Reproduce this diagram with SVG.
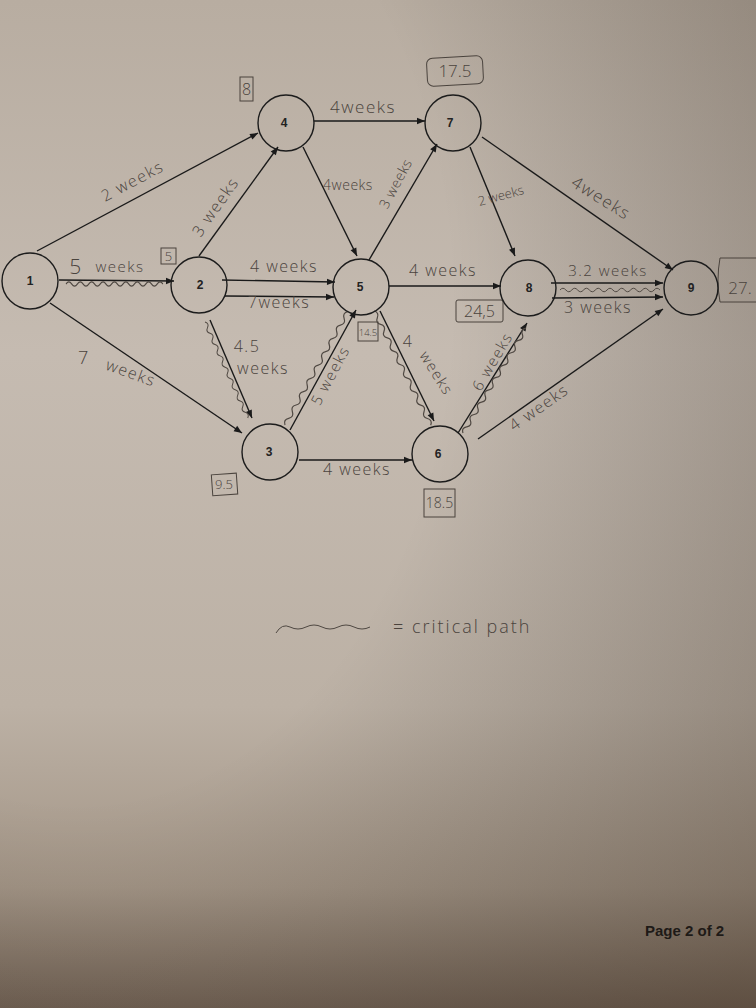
<svg xmlns="http://www.w3.org/2000/svg" width="756" height="1008" viewBox="0 0 756 1008">
<defs>
<linearGradient id="bg" x1="0" y1="0" x2="0" y2="1">
<stop offset="0" stop-color="#b8ada1"/>
<stop offset="0.35" stop-color="#c5bbb1"/>
<stop offset="0.7" stop-color="#bcb1a5"/>
<stop offset="0.88" stop-color="#a39586"/>
<stop offset="1" stop-color="#756557"/>
</linearGradient>
<radialGradient id="shade" cx="0.1" cy="0.3" r="1.1">
<stop offset="0.45" stop-color="#000" stop-opacity="0"/>
<stop offset="1" stop-color="#2a1c10" stop-opacity="0.3"/>
</radialGradient>
<marker id="ah" viewBox="0 0 10 10" refX="10" refY="5" markerWidth="10" markerHeight="8" orient="auto" markerUnits="userSpaceOnUse">
<path d="M0,1 L10,5 L0,9 z" fill="#1a1a1a"/>
</marker>
<path id="wave" d="M0 0 q3 -3.5 6 0 t6 0 t6 0 t6 0 t6 0 t6 0 t6 0 t6 0 t6 0 t6 0 t6 0 t6 0 t6 0 t6 0 t6 0 t6 0 t6 0" fill="none"/>
<path id="lwave" d="M0 4 q6 -10 14 -6 t16 0 t16 0 t16 0 t16 0 t16 0" fill="none"/>
</defs>
<style>
.node circle{fill:none;stroke:#1c1c1c;stroke-width:1.4}
.node text{font-family:"Liberation Sans",Arial,sans-serif;font-weight:bold;font-size:12px;fill:#222;text-anchor:middle}
.edge{stroke:#1a1a1a;stroke-width:1.4;fill:none;marker-end:url(#ah)}
.hw{font-family:"Open Sans","DejaVu Sans",sans-serif;font-weight:300;fill:#4a433d}
.box{fill:none;stroke:#4a433d;stroke-width:1}
.wv{stroke:#4f4842;stroke-width:1;fill:none}
</style>
<rect width="756" height="1008" fill="url(#bg)"/>
<rect width="756" height="1008" fill="url(#shade)"/>

<g id="connectors">
<line class="edge" x1="37" y1="251" x2="258" y2="133"/>
<line class="edge" x1="59" y1="280" x2="174" y2="281"/>
<line class="edge" x1="50" y1="303" x2="242" y2="433"/>
<line class="edge" x1="199" y1="256" x2="278" y2="147"/>
<line class="edge" x1="222" y1="280" x2="335" y2="282"/>
<line class="edge" x1="225" y1="296" x2="334" y2="297"/>
<line class="edge" x1="210" y1="320" x2="252" y2="418"/>
<line class="edge" x1="303" y1="147" x2="357" y2="256"/>
<line class="edge" x1="314" y1="121" x2="425" y2="121"/>
<line class="edge" x1="369" y1="260" x2="437" y2="144"/>
<line class="edge" x1="389" y1="286" x2="501" y2="286"/>
<line class="edge" x1="380" y1="311" x2="434" y2="421"/>
<line class="edge" x1="290" y1="430" x2="356" y2="310"/>
<line class="edge" x1="299" y1="460" x2="412" y2="460"/>
<line class="edge" x1="470" y1="147" x2="515" y2="256"/>
<line class="edge" x1="482" y1="137" x2="673" y2="270"/>
<line class="edge" x1="551" y1="283" x2="663" y2="283"/>
<line class="edge" x1="552" y1="298" x2="663" y2="297"/>
<line class="edge" x1="458" y1="433" x2="527" y2="323"/>
<line class="edge" x1="478" y1="439" x2="663" y2="309"/>
</g>

<g id="critical-path-marks">
<use href="#wave" class="wv" transform="translate(66 284) scale(0.95 1.2)"/>
<use href="#wave" class="wv" transform="translate(205 322) rotate(66) scale(1.03 1)"/>
<use href="#wave" class="wv" transform="translate(285 425) rotate(-61) scale(1.27 1.2)"/>
<use href="#wave" class="wv" transform="translate(374 311) rotate(63.6) scale(1.25 1.2)"/>
<use href="#wave" class="wv" transform="translate(463 433) rotate(-59) scale(1.2 1.2)"/>
<use href="#wave" class="wv" transform="translate(560 290) scale(0.98 1)"/>
</g>

<g id="edge-labels" class="hw" font-size="16" letter-spacing="1.5" text-anchor="middle">
<text transform="rotate(-28 135 186)" x="135" y="186">2 weeks</text>
<text x="76" y="274" font-size="21">5</text>
<text x="120" y="272" font-size="15">weeks</text>
<text x="84" y="364" font-size="18">7</text>
<text transform="rotate(20 129 378)" x="129" y="378">weeks</text>
<text transform="rotate(-55 220 210)" x="220" y="210">3 weeks</text>
<text x="363" y="113" font-size="17">4weeks</text>
<text x="348" y="190" font-size="14" letter-spacing="0.5">4weeks</text>
<text x="284" y="272">4 weeks</text>
<text x="279" y="308">7weeks</text>
<text x="247" y="352">4.5</text>
<text x="263" y="374">weeks</text>
<text transform="rotate(-62 400 186)" x="400" y="186" font-size="14" letter-spacing="0.5">3 weeks</text>
<text transform="rotate(-15 502 200)" x="502" y="200" font-size="13" letter-spacing="0">2 weeks</text>
<text transform="rotate(32 598 203)" x="598" y="203" font-size="17">4weeks</text>
<text x="443" y="276">4 weeks</text>
<text x="608" y="276" font-size="15">3.2 weeks</text>
<text x="598" y="313">3 weeks</text>
<text x="408" y="347">4</text>
<text transform="rotate(58 432 376)" x="432" y="376" font-size="15">weeks</text>
<text transform="rotate(-62 335 378)" x="335" y="378" font-size="15">5 weeks</text>
<text x="357" y="475">4 weeks</text>
<text transform="rotate(-60 497 364)" x="497" y="364" font-size="15">6 weeks</text>
<text transform="rotate(-35 542 412)" x="542" y="412">4 weeks</text>
</g>

<g id="time-boxes" class="hw" text-anchor="middle">
<rect class="box" x="240" y="77" width="13" height="24"/>
<text x="246.5" y="95" font-size="16">8</text>
<rect class="box" x="427" y="57" width="56" height="28" rx="6" transform="rotate(-3 455 71)"/>
<text x="455" y="77" font-size="17">17.5</text>
<rect class="box" x="161" y="248" width="15" height="16"/>
<text x="168.5" y="261" font-size="13">5</text>
<rect class="box" x="358" y="322" width="20" height="19"/>
<text x="368" y="335.5" font-size="9.5">14.5</text>
<rect class="box" x="456" y="300" width="47" height="22" rx="2"/>
<text x="479.5" y="317" font-size="16">24,5</text>
<rect class="box" x="212" y="474" width="25" height="21" transform="rotate(-4 224 484)"/>
<text x="224" y="489" font-size="13">9.5</text>
<rect class="box" x="424" y="489" width="31" height="28"/>
<text x="439.5" y="508" font-size="14">18.5</text>
<path class="box" d="M760 258 L720 258 Q716 280 720 302 L760 302"/>
<text x="740" y="294" font-size="17">27.</text>
</g>

<g id="node1" class="node"><circle cx="30" cy="281" r="28"/><text x="30" y="285">1</text></g>
<g id="node2" class="node"><circle cx="199" cy="285" r="28"/><text x="200" y="289">2</text></g>
<g id="node3" class="node"><circle cx="270" cy="452" r="28"/><text x="269" y="456">3</text></g>
<g id="node4" class="node"><circle cx="286" cy="123" r="28"/><text x="284" y="127">4</text></g>
<g id="node5" class="node"><circle cx="361" cy="287" r="28"/><text x="360" y="291">5</text></g>
<g id="node6" class="node"><circle cx="440" cy="454" r="28"/><text x="438" y="458">6</text></g>
<g id="node7" class="node"><circle cx="453" cy="123" r="28"/><text x="450" y="127">7</text></g>
<g id="node8" class="node"><circle cx="528" cy="288" r="28"/><text x="529" y="292">8</text></g>
<g id="node9" class="node"><circle cx="691" cy="288" r="27"/><text x="691" y="292">9</text></g>

<g id="legend">
<use href="#lwave" class="wv" stroke-width="1.3" transform="translate(276 629)"/>
<text class="hw" x="393" y="633" font-size="18" letter-spacing="2" text-anchor="start">= critical path</text>
</g>

<text x="645" y="936" font-family="'Liberation Sans',Arial,sans-serif" font-weight="bold" font-size="15" fill="#1e1a17">Page 2 of 2</text>
</svg>
